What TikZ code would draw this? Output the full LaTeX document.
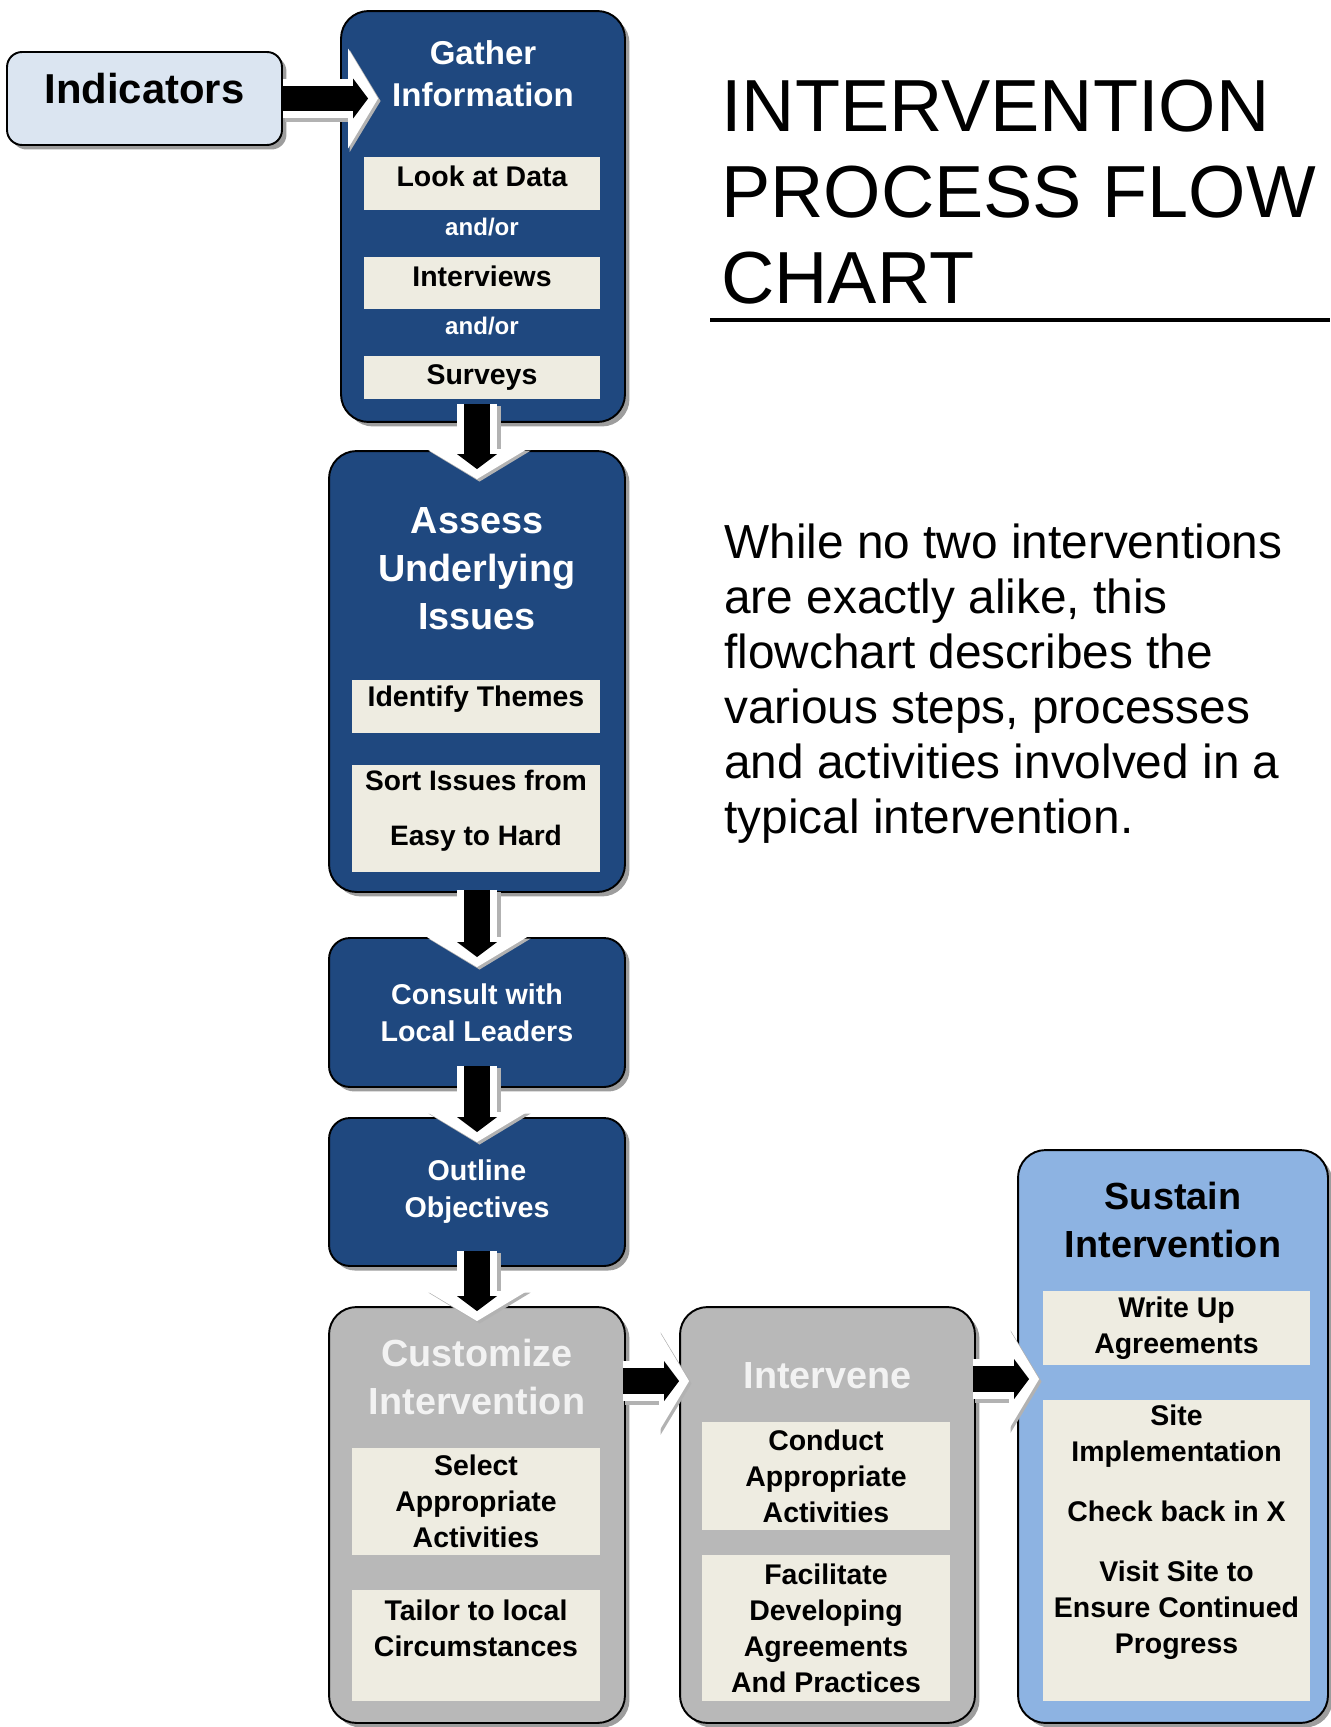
\documentclass[tikz,border=0pt]{standalone}
\usepackage{fontspec}
\setmainfont{Liberation Sans}
\usetikzlibrary{positioning, shadows, arrows.meta, calc}
\definecolor{navyblue}{HTML}{1F487F}
\definecolor{skyblue}{HTML}{8DB3E2}
\definecolor{paleblue}{HTML}{DBE5F1}
\definecolor{stonegray}{HTML}{B8B8B8}
\definecolor{cream}{HTML}{EEECE1}

\begin{document}
\begin{tikzpicture}[x=0.02cm, y=-0.02cm]
  \tikzstyle{stage}=[rectangle, draw=black, line width=1.1pt, rounded corners=0.55cm, align=center, drop shadow={shadow xshift=0.09cm, shadow yshift=-0.09cm, fill=black!55, opacity=0.7}]
  \tikzstyle{bluestage}=[stage, fill=navyblue, text=white]
  \tikzstyle{graystage}=[stage, fill=stonegray]
  \tikzstyle{task}=[rectangle, fill=cream, inner sep=0pt, align=center, font=\bfseries\fontsize{16.2pt}{20.5pt}\selectfont]
  \tikzstyle{subhead}=[align=center, inner sep=0pt, font=\bfseries\fontsize{21.5pt}{27.3pt}\selectfont]
  \tikzstyle{lift}=[text depth=0.28cm]
  \tikzstyle{blockarrow}=[preaction={draw=black!30, line width=0.84cm, shorten >=0pt, transform canvas={xshift=0.05cm, yshift=-0.05cm}, -{Triangle[length=0.62cm, width=2.05cm, line width=0pt]}},
    preaction={draw=white, line width=0.8cm, shorten >=0pt, -{Triangle[length=0.6cm, width=2cm, line width=0pt]}},
    draw=black, line width=0.52cm, shorten >=0.2cm, -{Triangle[length=0.3cm, width=0.8cm, line width=0pt]}]

  \useasboundingbox (0,0) rectangle (1330,1727);

  % left column
  \node (indicators) [stage, rounded corners=0.3cm, fill=paleblue, minimum width=5.5cm, minimum height=1.86cm, text depth=0.4cm, font=\bfseries\fontsize{23.8pt}{28pt}\selectfont] at (144.5,98.5) {Indicators};

  \node (gather) [bluestage, minimum width=5.68cm, minimum height=8.22cm] at (483,216.5) {};
  \node (gathertitle) [subhead, text=white, font=\bfseries\fontsize{18.8pt}{23.9pt}\selectfont] at (483,74) {Gather\\Information};
  \node (lookdata) [task, lift, minimum width=4.72cm, minimum height=1.06cm] at (482,183.5) {Look at Data};
  \node (andor1) [subhead, text=white, font=\bfseries\fontsize{13.7pt}{16pt}\selectfont] at (482,227) {and/or};
  \node (interviews) [task, lift, minimum width=4.72cm, minimum height=1.04cm] at (482,283) {Interviews};
  \node (andor2) [subhead, text=white, font=\bfseries\fontsize{13.7pt}{16pt}\selectfont] at (482,326) {and/or};
  \node (surveys) [task, minimum width=4.72cm, minimum height=0.86cm] at (482,377.5) {Surveys};

  \node (assess) [bluestage, minimum width=5.92cm, minimum height=8.82cm] at (477,671.5) {};
  \node (assesstitle) [subhead, text=white] at (477,569) {Assess\\Underlying\\Issues};
  \node (themes) [task, text depth=0.4cm, minimum width=4.96cm, minimum height=1.06cm] at (476,706.5) {Identify Themes};
  \node (sorting) [task, text depth=0.44cm, minimum width=4.96cm, minimum height=2.14cm, font=\bfseries\fontsize{16pt}{31.3pt}\selectfont] at (476,818.5) {Sort Issues from\\Easy to Hard};

  \node (consult) [bluestage, rounded corners=0.42cm, minimum width=5.92cm, minimum height=2.98cm, font=\bfseries\fontsize{16.3pt}{21pt}\selectfont] at (477,1012.5) {Consult with\\Local Leaders};
  \node (outline) [bluestage, rounded corners=0.42cm, minimum width=5.92cm, minimum height=2.96cm, font=\bfseries\fontsize{16.3pt}{21pt}\selectfont] at (477,1192) {Outline\\Objectives};

  % bottom row
  \node (customize) [graystage, minimum width=5.92cm, minimum height=8.32cm] at (477,1515) {};
  \node (customizetitle) [subhead, text=white!95!black] at (477,1377) {Customize\\Intervention};
  \node (selecting) [task, minimum width=4.96cm, minimum height=2.14cm] at (476,1501.5) {Select\\Appropriate\\Activities};
  \node (tailor) [task, text depth=0.68cm, minimum width=4.96cm, minimum height=2.22cm] at (476,1645.5) {Tailor to local\\Circumstances};

  \node (intervene) [graystage, minimum width=5.9cm, minimum height=8.32cm] at (827.5,1515) {};
  \node (intervenetitle) [subhead, text=white!95!black] at (827.5,1376) {Intervene};
  \node (conduct) [task, minimum width=4.96cm, minimum height=2.16cm] at (826,1476) {Conduct\\Appropriate\\Activities};
  \node (facilitate) [task, minimum width=4.96cm, minimum height=2.92cm] at (826,1628) {Facilitate\\Developing\\Agreements\\And Practices};

  \node (sustain) [stage, fill=skyblue, minimum width=6.2cm, minimum height=11.46cm] at (1173,1436.5) {};
  \node (sustaintitle) [subhead, text=black] at (1173,1220) {Sustain\\Intervention};
  \node (writeup) [task, minimum width=5.34cm, minimum height=1.48cm] at (1176.5,1328) {Write Up\\Agreements};
  \node (sitework) [task, text depth=0.84cm, minimum width=5.34cm, minimum height=6.02cm] at (1176.5,1550.5) {Site\\Implementation\\[13.7pt]Check back in X\\[13.7pt]Visit Site to\\Ensure Continued\\Progress};

  % title and text
  \node (title) [anchor=north west, align=left, inner sep=0pt, font=\fontsize{42pt}{48.7pt}\selectfont] at (721,80) {INTERVENTION\\PROCESS FLOW\\CHART};
  \draw [line width=2.6pt] (710,320) -- (1330,320);
  \node (blurb) [anchor=north west, align=left, inner sep=0pt, font=\fontsize{27.2pt}{31.3pt}\selectfont] at (724,524) {While no two interventions\\are exactly alike, this\\flowchart describes the\\various steps, processes\\and activities involved in a\\typical intervention.};

  % arrows
  \draw [blockarrow] (indicators.east) -- ($(indicators.east -| gather.west)+(38,0)$);
  \draw [blockarrow] ($(assess.north |- gather.south)+(0,-19)$) -- ($(assess.north)+(0,29)$);
  \draw [blockarrow] ($(assess.south)+(0,-3)$) -- ($(consult.north)+(0,30)$);
  \draw [blockarrow] ($(consult.south)+(0,-22)$) -- ($(outline.north)+(0,25)$);
  \draw [blockarrow] ($(outline.south)+(0,-16)$) -- ($(customize.north)+(0,15)$);
  \draw [blockarrow] ($(customize.north east)+(-3,75)$) -- ($(intervene.north west)+(10,75)$);
  \draw [blockarrow] ($(intervene.north east)+(-3,73)$) -- ($(intervene.north east -| sustain.west)+(22,73)$);
\end{tikzpicture}
\end{document}
